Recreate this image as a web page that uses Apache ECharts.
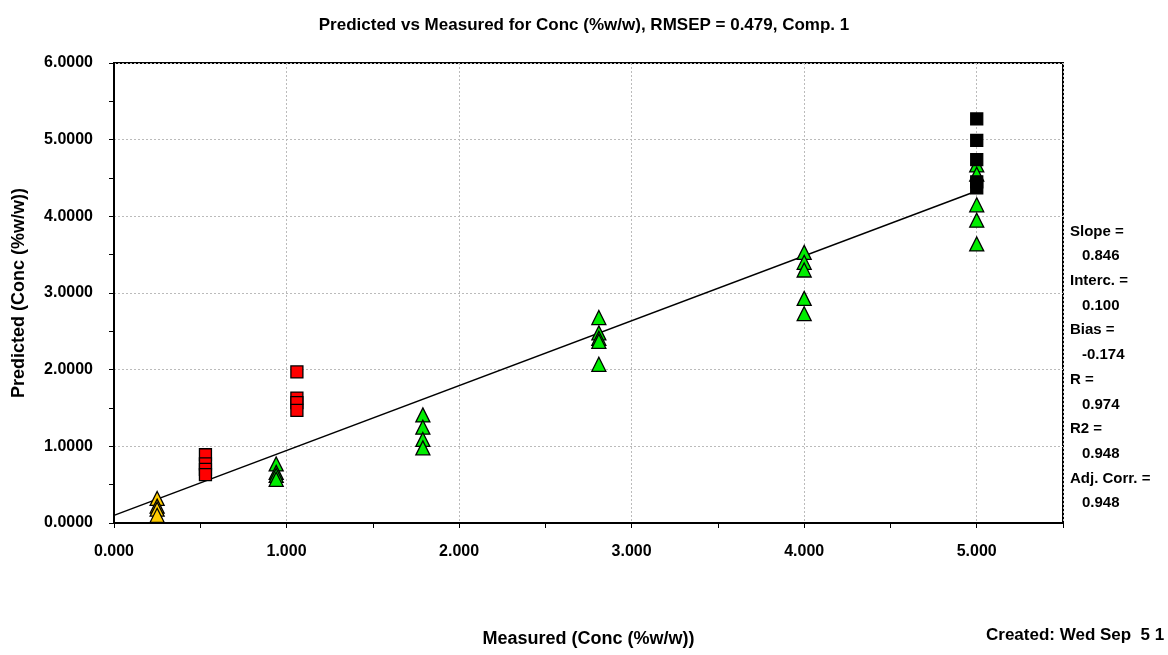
<!DOCTYPE html>
<html>
<head>
<meta charset="utf-8">
<script src="https://cdn.jsdelivr.net/npm/echarts@6/dist/echarts.min.js"></script>
<style>
  html, body { margin: 0; padding: 0; background: #fff; }
  #chart { width: 1168px; height: 655px; }
</style>
</head>
<body>
<div id="chart"></div>
<script>
// measured / predicted pairs
const yellowPts = [[0.25, 0.32], [0.25, 0.22], [0.25, 0.18], [0.25, 0.10]];
const redPts = [
  [0.53, 0.89], [0.53, 0.77], [0.53, 0.70], [0.53, 0.63],
  [1.06, 1.97], [1.06, 1.63], [1.06, 1.57], [1.06, 1.47]
];
const greenPts = [
  [0.94, 0.77], [0.94, 0.66], [0.94, 0.62], [0.94, 0.57],
  [1.79, 1.41], [1.79, 1.25], [1.79, 1.09], [1.79, 0.98],
  [2.81, 2.68], [2.81, 2.48], [2.81, 2.41], [2.81, 2.37], [2.81, 2.07],
  [4.00, 3.53], [4.00, 3.40], [4.00, 3.30], [4.00, 2.93], [4.00, 2.73],
  [5.00, 4.67], [5.00, 4.55], [5.00, 4.15], [5.00, 3.95], [5.00, 3.64]
];
const blackPts = [[5.00, 5.27], [5.00, 4.99], [5.00, 4.74], [5.00, 4.45], [5.00, 4.37]];
const fitLine = [[0, 0.100], [5, 4.330]];

const statLines = [
  'Slope =', '  0.846', 'Interc. =', '  0.100', 'Bias =', '  -0.174',
  'R =', '  0.974', 'R2 =', '  0.948', 'Adj. Corr. =', '  0.948'
];

const FONT = '"Liberation Sans", Arial, sans-serif';

let myChart = echarts.init(document.getElementById('chart'));

let statText = [];
statLines.forEach(function (s, i) {
  statText.push({
    type: 'text',
    left: s.indexOf('  ') === 0 ? 1082 : 1070,
    top: 224 + i * 24.7,
    style: {
      text: s.trim(),
      font: 'bold 15px ' + FONT,
      fill: '#000'
    }
  });
});

let markerBorder = { borderColor: '#000', borderWidth: 1.3, opacity: 1 };

myChart.setOption({
  animation: false,
  title: {
    text: 'Predicted vs Measured for Conc (%w/w), RMSEP = 0.479, Comp. 1',
    left: 'center',
    top: 12,
    textStyle: { fontFamily: FONT, fontSize: 17, fontWeight: 'bold', color: '#000' }
  },
  grid: {
    left: 114, right: 105, top: 63, bottom: 132,
    show: true, borderColor: '#000', borderWidth: 2, backgroundColor: '#fff'
  },
  xAxis: [{
    type: 'value', min: 0, max: 5.5, interval: 0.5,
    name: 'Measured (Conc (%w/w))', nameLocation: 'middle', nameGap: 107,
    nameTextStyle: { fontFamily: FONT, fontSize: 18, fontWeight: 'bold', color: '#000' },
    axisLine: { show: true, lineStyle: { color: '#000', width: 2 } },
    axisTick: { show: true, length: 5, lineStyle: { color: '#000' } },
    axisLabel: {
      margin: 21, fontFamily: FONT, fontSize: 16, fontWeight: 'bold', color: '#000',
      formatter: function (v) { return Math.abs(v - Math.round(v)) < 1e-9 ? v.toFixed(3) : ''; }
    },
    splitLine: { show: false }
  }, {
    type: 'value', min: 0, max: 5.5, interval: 1, position: 'bottom',
    axisLine: { show: false }, axisTick: { show: false }, axisLabel: { show: false },
    splitLine: { show: true, lineStyle: { color: '#bbb', type: [2, 2], width: 1 } }
  }],
  yAxis: [{
    type: 'value', min: 0, max: 6, interval: 0.5,
    name: 'Predicted (Conc (%w/w))', nameLocation: 'middle', nameGap: 86,
    nameTextStyle: { fontFamily: FONT, fontSize: 18, fontWeight: 'bold', color: '#000' },
    axisLine: { show: true, lineStyle: { color: '#000', width: 2 } },
    axisTick: { show: true, length: 5, lineStyle: { color: '#000' } },
    axisLabel: {
      margin: 21, fontFamily: FONT, fontSize: 16, fontWeight: 'bold', color: '#000',
      formatter: function (v) { return Math.abs(v - Math.round(v)) < 1e-9 ? v.toFixed(4) : ''; }
    },
    splitLine: { show: false }
  }, {
    type: 'value', min: 0, max: 6, interval: 1, position: 'left',
    axisLine: { show: false }, axisTick: { show: false }, axisLabel: { show: false },
    splitLine: { show: true, lineStyle: { color: '#bbb', type: [2, 2], width: 1 } }
  }],
  series: [
    {
      type: 'line', data: fitLine, showSymbol: false, symbol: 'none',
      lineStyle: { color: '#000', width: 1.5 }, z: 2
    },
    {
      type: 'scatter', data: greenPts, symbol: 'triangle', symbolSize: [14, 14],
      itemStyle: Object.assign({ color: '#00ee00' }, markerBorder), z: 3
    },
    {
      type: 'scatter', data: yellowPts, symbol: 'triangle', symbolSize: [14, 14],
      itemStyle: Object.assign({ color: '#ffcc00' }, markerBorder), z: 4
    },
    {
      type: 'scatter', data: redPts, symbol: 'rect', symbolSize: [12, 12],
      itemStyle: Object.assign({ color: '#ff0000' }, markerBorder), z: 4
    },
    {
      type: 'scatter', data: blackPts, symbol: 'rect', symbolSize: [12, 12],
      itemStyle: Object.assign({ color: '#000' }, markerBorder), z: 5
    }
  ],
  graphic: statText.concat([{
    type: 'text', left: 986, top: 627,
    style: { text: 'Created: Wed Sep  5 1', font: 'bold 17px ' + FONT, fill: '#000' }
  }])
});
</script>
</body>
</html>
